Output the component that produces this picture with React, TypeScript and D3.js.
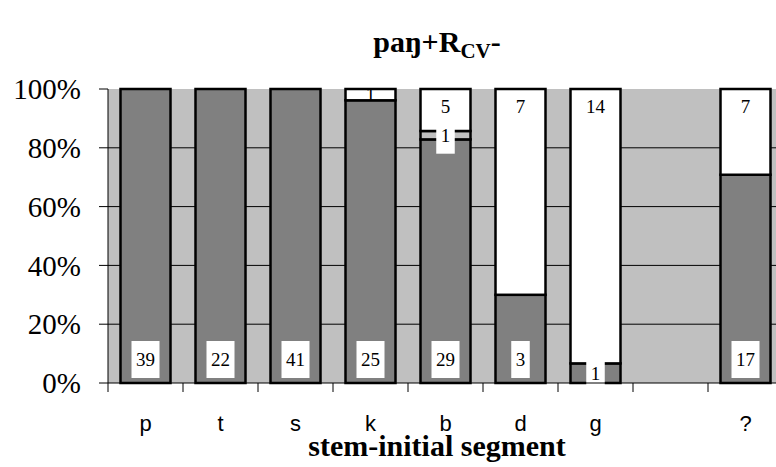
import * as d3 from 'd3'

const categories = ['p', 't', 's', 'k', 'b', 'd', 'g', '', '?']
const darkCounts = [39, 22, 41, 25, 29, 3, 1, 0, 17]
const midCounts = [0, 0, 0, 0, 1, 0, 0, 0, 0]
const whiteCounts = [0, 0, 0, 1, 5, 7, 14, 0, 7]
const yTicks = [0, 20, 40, 60, 80, 100]

const seriesKeys = ['dark', 'mid', 'white'] as const
const seriesFill: Record<string, string> = { dark: '#808080', mid: '#c0c0c0', white: '#ffffff' }

const width = 776
const height = 467
const left = 108
const right = 783
const top = 89
const bottom = 383
const labelFont = 'Liberation Serif, Times New Roman, serif'

export default function App() {
  const rows = categories.map((c, i) => {
    const total = darkCounts[i] + midCounts[i] + whiteCounts[i]
    const pct = (v: number) => (total ? (v / total) * 100 : 0)
    return {
      cat: c,
      dark: pct(darkCounts[i]),
      mid: pct(midCounts[i]),
      white: pct(whiteCounts[i]),
      counts: { dark: darkCounts[i], mid: midCounts[i], white: whiteCounts[i] } as Record<string, number>,
    }
  })

  const x = d3.scaleBand<string>()
    .domain(categories.map((c, i) => `${i}`))
    .range([left, right])
    .paddingInner(1 / 3)
    .paddingOuter(1 / 6)
  const y = d3.scaleLinear().domain([0, 100]).range([bottom, top])
  const stacked = d3.stack<(typeof rows)[number]>().keys(seriesKeys as unknown as string[])(rows)
  const step = x.step()
  const bw = x.bandwidth()

  const labels: JSX.Element[] = []
  stacked.forEach((layer) => {
    layer.forEach((d, i) => {
      const count = rows[i].counts[layer.key]
      if (!count) return
      const cx = (x(`${i}`) ?? 0) + bw / 2
      const y0 = y(d[0])
      const y1 = y(d[1])
      const segH = y0 - y1
      const boxH = 37
      const txt = `${count}`
      const boxW = txt.length * 9.5 + 9
      let cy: number
      if (segH < boxH) cy = (y0 + y1) / 2
      else if (layer.key === 'white') cy = y1 + 17
      else cy = y0 - 5 - boxH / 2
      const withBox = layer.key !== 'white'
      labels.push(
        <g key={`${layer.key}-${i}`}>
          {withBox && (
            <rect x={cx - boxW / 2} y={cy - boxH / 2} width={boxW} height={boxH} fill="#fff" />
          )}
          <text
            x={cx}
            y={cy}
            dy="0.35em"
            textAnchor="middle"
            fontFamily={labelFont}
            fontSize={19}
            fill="#000"
          >
            {txt}
          </text>
        </g>,
      )
    })
  })

  return (
    <svg
      width={width}
      height={height}
      style={{ position: 'absolute', left: 0, top: 0, background: '#fff' }}
    >
      <text x={437} y={52} textAnchor="middle" fontFamily={labelFont} fontWeight="bold" fontSize={30}>
        paŋ+R
        <tspan fontSize={21} dy={6}>CV</tspan>
        <tspan dy={-6}>-</tspan>
      </text>

      <rect x={left} y={top} width={right - left} height={bottom - top} fill="#c0c0c0" />
      {yTicks.filter((t) => t > 0 && t < 100).map((t) => (
        <line key={t} x1={left} x2={right} y1={y(t)} y2={y(t)} stroke="#000" strokeWidth={1} />
      ))}

      {stacked.map((layer) =>
        layer.map((d, i) => {
          if (d[1] - d[0] <= 0) return null
          return (
            <rect
              key={`${layer.key}-${i}`}
              x={x(`${i}`)}
              y={y(d[1])}
              width={bw}
              height={y(d[0]) - y(d[1])}
              fill={seriesFill[layer.key]}
              stroke="#000"
              strokeWidth={2.5}
            />
          )
        }),
      )}

      {labels}

      <line x1={left} x2={left} y1={top} y2={bottom} stroke="#000" strokeWidth={1} />
      <line x1={left} x2={right} y1={bottom} y2={bottom} stroke="#000" strokeWidth={1} />
      {yTicks.map((t) => (
        <g key={t}>
          <line x1={left - 9} x2={left} y1={y(t)} y2={y(t)} stroke="#000" />
          <text
            x={81}
            y={y(t)}
            dy="0.35em"
            textAnchor="end"
            fontFamily={labelFont}
            fontSize={29}
          >
            {t}%
          </text>
        </g>
      ))}
      {categories.map((c, i) => (
        <g key={i}>
          <line
            x1={left + step * i}
            x2={left + step * i}
            y1={bottom}
            y2={bottom + 9}
            stroke="#000"
          />
          <text
            x={(x(`${i}`) ?? 0) + bw / 2}
            y={431}
            textAnchor="middle"
            fontFamily="Liberation Sans, Arial, sans-serif"
            fontSize={22}
          >
            {c}
          </text>
        </g>
      ))}

      <text x={437} y={456} textAnchor="middle" fontFamily={labelFont} fontWeight="bold" fontSize={30}>
        stem-initial segment
      </text>
    </svg>
  )
}
